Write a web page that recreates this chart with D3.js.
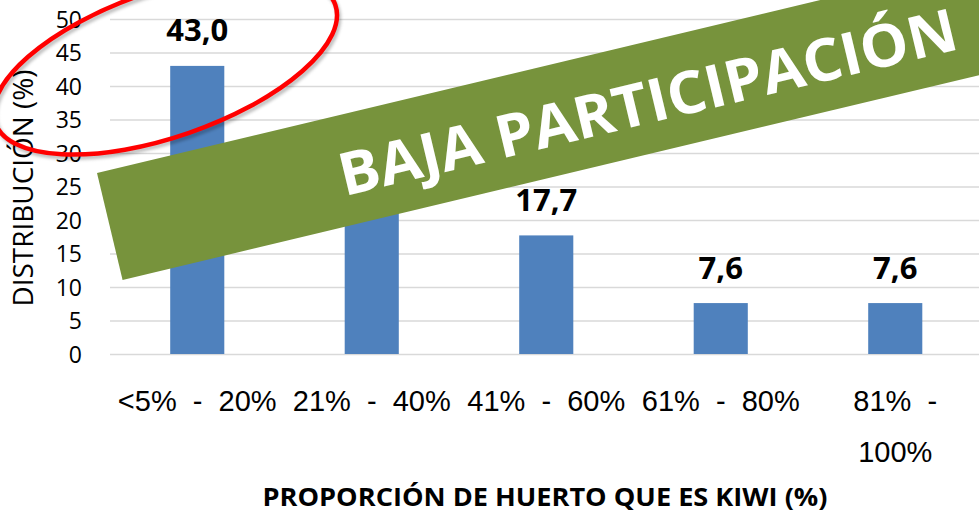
<!DOCTYPE html>
<html>
<head>
<meta charset="utf-8">
<script src="https://cdn.jsdelivr.net/npm/d3@7"></script>
<style>
  body { margin: 0; background: #fff; }
  svg { display: block; }
</style>
</head>
<body>
<script>
// chart data
var categories = ["<5%  -  20%", "21%  -  40%", "41%  -  60%", "61%  -  80%", "81%  -  100%"];
var values = [43.0, 24.1, 17.7, 7.6, 7.6];
var valueLabels = ["43,0", "24,1", "17,7", "7,6", "7,6"];
var yTicks = [0, 5, 10, 15, 20, 25, 30, 35, 40, 45, 50];
var yTitle = "DISTRIBUCIÓN (%)";
var xTitle = "PROPORCIÓN DE HUERTO QUE ES KIWI (%)";
var bannerText = "BAJA PARTICIPACIÓN";

var width = 979,
    height = 515;

var svg = d3.select("body").append("svg")
    .attr("width", width)
    .attr("height", height);

var x = d3.scaleBand()
    .domain(categories)
    .range([110, 982.5])
    .paddingInner(0.69)
    .paddingOuter(0.345);

var y = d3.scaleLinear()
    .domain([0, 50])
    .range([354, 19]);

//gridlines
var grid = svg.append("g")
    .attr("transform", "translate(110,0)")
    .call(d3.axisLeft(y).tickValues(yTicks).tickSize(-(width - 110)).tickFormat(""));
grid.select(".domain").remove();
grid.selectAll("line").attr("stroke", "#d9d9d9").attr("stroke-width", 1.6);

//y tick labels
var yAxis = svg.append("g")
    .attr("transform", "translate(110,0)")
    .call(d3.axisLeft(y).tickValues(yTicks).tickSize(0).tickPadding(28));
yAxis.select(".domain").remove();
yAxis.selectAll("text")
    .attr("font-family", "'Open Sans', sans-serif")
    .attr("font-size", 23)
    .attr("fill", "#000")
    .attr("dy", "0.36em");

//bars
svg.append("g").selectAll("rect")
    .data(values)
    .enter().append("rect")
    .attr("x", function(d, i) { return x(categories[i]); })
    .attr("y", function(d) { return y(d); })
    .attr("width", x.bandwidth())
    .attr("height", function(d) { return y(0) - y(d); })
    .attr("fill", "#4f81bd");

//value labels
svg.append("g").selectAll("text")
    .data(values)
    .enter().append("text")
    .attr("x", function(d, i) { return x(categories[i]) + x.bandwidth() / 2; })
    .attr("y", function(d) { return y(d) - 24.5; })
    .attr("text-anchor", "middle")
    .attr("font-family", "'Open Sans', sans-serif")
    .attr("font-weight", "bold")
    .attr("font-size", 31)
    .attr("fill", "#000")
    .text(function(d, i) { return valueLabels[i]; });

//x axis labels, wrapped when too wide
var xAxis = svg.append("g")
    .attr("transform", "translate(0," + y(0) + ")")
    .call(d3.axisBottom(x).tickSize(0));
xAxis.select(".domain").remove();
xAxis.selectAll("text")
    .attr("font-family", "'Liberation Sans', Arial, sans-serif")
    .attr("font-size", 29)
    .attr("fill", "#000")
    .attr("xml:space", "preserve")
    .style("white-space", "pre")
    .each(function(d) {
        var t = d3.select(this);
        t.attr("dy", null).attr("y", null).text(d);
        var lines = [d];
        if (this.getComputedTextLength() > x.step() - 6) {
            var k = d.lastIndexOf(" ");
            lines = [d.slice(0, k).replace(/\s+$/, ""), d.slice(k + 1)];
        }
        t.text(null);
        lines.forEach(function(l, i) {
            t.append("tspan").attr("x", 0).attr("y", 57 + i * 51).text(l);
        });
    });

//axis titles
svg.append("text")
    .attr("transform", "translate(33,188) rotate(-90)")
    .attr("text-anchor", "middle")
    .attr("font-family", "'Open Sans', sans-serif")
    .attr("font-size", 27)
    .attr("fill", "#000")
    .attr("textLength", 237)
    .attr("lengthAdjust", "spacingAndGlyphs")
    .text(yTitle);

svg.append("text")
    .attr("x", 545)
    .attr("y", 506)
    .attr("text-anchor", "middle")
    .attr("font-family", "'Open Sans', sans-serif")
    .attr("font-weight", "bold")
    .attr("font-size", 25)
    .attr("fill", "#000")
    .attr("textLength", 565)
    .attr("lengthAdjust", "spacingAndGlyphs")
    .text(xTitle);

//green banner
var banner = svg.append("g")
    .attr("transform", "translate(97,173) rotate(-13.45)");
banner.append("rect")
    .attr("width", 1000)
    .attr("height", 110)
    .attr("fill", "#77933c");
banner.append("text")
    .attr("x", 235)
    .attr("y", 80)
    .attr("font-family", "'Open Sans', sans-serif")
    .attr("font-weight", "bold")
    .attr("font-size", 59)
    .attr("fill", "#fff")
    .attr("textLength", 634)
    .attr("lengthAdjust", "spacingAndGlyphs")
    .text(bannerText);

//red ellipse round the first bar
var defs = svg.append("defs");
defs.append("filter").attr("id", "blur")
    .append("feGaussianBlur").attr("stdDeviation", 1.5);

var ecx = x(categories[0]) + x.bandwidth() / 2 - 32,
    ecy = y(43.3);
svg.append("ellipse")
    .attr("transform", "translate(" + (ecx + 2) + "," + (ecy + 3) + ") rotate(-19.1)")
    .attr("rx", 180).attr("ry", 73)
    .attr("fill", "none")
    .attr("stroke", "#000")
    .attr("stroke-opacity", 0.25)
    .attr("stroke-width", 4.5)
    .attr("filter", "url(#blur)");
svg.append("ellipse")
    .attr("transform", "translate(" + ecx + "," + ecy + ") rotate(-19.1)")
    .attr("rx", 180).attr("ry", 73)
    .attr("fill", "none")
    .attr("stroke", "#ff0000")
    .attr("stroke-width", 4.5);
</script>
</body>
</html>
